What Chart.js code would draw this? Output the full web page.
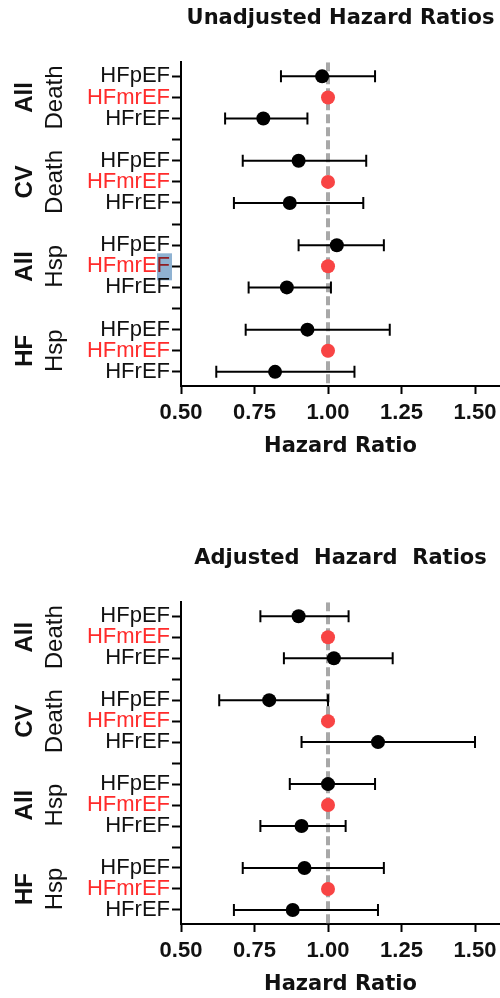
<!DOCTYPE html>
<html>
<head>
<meta charset="utf-8">
<script src="https://cdn.jsdelivr.net/npm/chart.js@4.4.1/dist/chart.umd.min.js"></script>
<style>
html, body { margin: 0; padding: 0; background: #fff; overflow: hidden; }
canvas { position: absolute; left: 0; }
#unadj { top: 0; }
#adj { top: 540px; }
</style>
</head>
<body>
<canvas id="unadj" width="500" height="470"></canvas>
<canvas id="adj" width="500" height="468"></canvas>
<script>
// outcome groups, two lines each (drawn rotated at the left)
const groupMain = ['All', 'CV', 'All', 'HF'];
const groupSub = ['Death', 'Death', 'Hsp', 'Hsp'];
const efTypes = ['HFpEF', 'HFmrEF', 'HFrEF'];
const xTicks = [0.5, 0.75, 1.0, 1.25, 1.5];

// rows: group by group, HFpEF / HFmrEF (reference) / HFrEF
const unadjHR = [0.98, 1, 0.78, 0.90, 1, 0.87, 1.03, 1, 0.86, 0.93, 1, 0.82];
const unadjLo = [0.84, null, 0.65, 0.71, null, 0.68, 0.90, null, 0.73, 0.72, null, 0.62];
const unadjHi = [1.16, null, 0.93, 1.13, null, 1.12, 1.19, null, 1.01, 1.21, null, 1.09];

const adjHR = [0.90, 1, 1.02, 0.80, 1, 1.17, 1.00, 1, 0.91, 0.92, 1, 0.88];
const adjLo = [0.77, null, 0.85, 0.63, null, 0.91, 0.87, null, 0.77, 0.71, null, 0.68];
const adjHi = [1.07, null, 1.22, 1.00, null, 1.50, 1.16, null, 1.06, 1.19, null, 1.17];

const RED = '#ff2b2b';
const DOT_RED = '#f84444';
const INK = '#111';
const yMin = -0.67, yMax = 14.67;

// row index -> y slot (one empty slot between groups)
function rowPos(i) { return Math.floor(i / 3) * 4 + (i % 3); }

const groupLabels = {
    id: 'groupLabels',
    afterDraw(chart, args, opts) {
        const ctx = chart.ctx;
        const y = chart.scales.y;
        ctx.save();
        ctx.fillStyle = INK;
        ctx.textAlign = 'center';
        ctx.textBaseline = 'alphabetic';
        for (let g = 0; g < groupMain.length; g++) {
            const py = y.getPixelForValue(g * 4 + 1);
            ctx.save();
            ctx.translate(32, py);
            ctx.rotate(-Math.PI / 2);
            ctx.font = 'bold 24px "Liberation Sans", Arial, sans-serif';
            ctx.fillText(groupMain[g], 0, 0);
            ctx.restore();
            ctx.save();
            ctx.translate(62, py);
            ctx.rotate(-Math.PI / 2);
            ctx.font = '24px "Liberation Sans", Arial, sans-serif';
            ctx.fillText(groupSub[g], 0, 0);
            ctx.restore();
        }
        // the little selection mark that sits on one label in the original
        if (opts.mark != null) {
            const my = y.getPixelForValue(opts.mark);
            const left = chart.chartArea.left;
            ctx.globalCompositeOperation = 'multiply';
            ctx.fillStyle = '#8fb2d2';
            ctx.fillRect(left - 24, my - 13, 15, 27);
        }
        ctx.restore();
    }
};

function makeChart(id, title, hr, lo, hi, mark) {
    const dots = hr.map((v, i) => ({ x: v, y: rowPos(i) }));
    const bars = [];
    lo.forEach((l, i) => {
        if (l == null) return;
        bars.push({ x: l, y: rowPos(i) }, { x: hi[i], y: rowPos(i) }, { x: null, y: null });
    });

    new Chart(id, {
        type: 'scatter',
        data: {
            datasets: [
                {
                    data: dots,
                    pointRadius: 7,
                    pointBorderWidth: 0,
                    pointBackgroundColor: c => (c.dataIndex % 3 === 1 ? DOT_RED : '#000')
                },
                {
                    data: bars,
                    showLine: true,
                    borderColor: '#000',
                    borderWidth: 2,
                    pointStyle: 'line',
                    pointRotation: 90,
                    pointRadius: 6,
                    pointBorderColor: '#000',
                    pointBorderWidth: 2
                },
                {
                    data: [{ x: 1, y: yMin }, { x: 1, y: yMax }],
                    showLine: true,
                    borderColor: '#a8a8a8',
                    borderWidth: 4,
                    borderDash: [9, 4],
                    pointRadius: 0
                }
            ]
        },
        options: {
            responsive: false,
            animation: false,
            layout: { padding: 0, autoPadding: false },
            plugins: {
                legend: { display: false },
                tooltip: { enabled: false },
                title: {
                    display: true,
                    text: title,
                    fullSize: false,
                    color: INK,
                    font: { family: 'DejaVu Sans', weight: 'bold', size: 21 },
                    padding: { top: 6, bottom: 31 }
                },
                groupLabels: { mark: mark }
            },
            scales: {
                x: {
                    type: 'linear',
                    min: 0.5,
                    max: 1.585,
                    afterBuildTicks: s => { s.ticks = xTicks.map(v => ({ value: v })); },
                    afterFit: s => { s.height = 84; s.paddingLeft = 0; s.paddingRight = 0; },
                    ticks: {
                        callback: v => v.toFixed(2),
                        color: INK,
                        font: { family: 'Liberation Sans', weight: 'bold', size: 22 },
                        padding: 6,
                        maxRotation: 0,
                        autoSkip: false
                    },
                    grid: { drawOnChartArea: false, tickLength: 8, tickWidth: 2, tickColor: '#000' },
                    border: { color: '#000', width: 2 },
                    title: {
                        display: true,
                        text: 'Hazard Ratio',
                        color: INK,
                        font: { family: 'DejaVu Sans', weight: 'bold', size: 21 },
                        padding: { top: 0, bottom: 11 }
                    }
                },
                y: {
                    type: 'linear',
                    reverse: true,
                    min: yMin,
                    max: yMax,
                    afterBuildTicks: s => {
                        const t = [];
                        for (let i = 0; i < 15; i++) t.push({ value: i });
                        s.ticks = t;
                    },
                    afterFit: s => { s.width = 181; s.paddingTop = 0; s.paddingBottom = 0; },
                    ticks: {
                        callback: v => (v % 4 === 3 ? '' : efTypes[v % 4]),
                        color: c => (c.tick && c.tick.value % 4 === 1 ? RED : INK),
                        font: { family: 'Liberation Sans', size: 22 },
                        padding: 2,
                        autoSkip: false
                    },
                    grid: { drawOnChartArea: false, tickLength: 9, tickWidth: 2, tickColor: '#000' },
                    border: { color: '#000', width: 2 }
                }
            }
        },
        plugins: [groupLabels]
    });
}

makeChart('unadj', 'Unadjusted Hazard Ratios', unadjHR, unadjLo, unadjHi, 9);
makeChart('adj', 'Adjusted  Hazard  Ratios', adjHR, adjLo, adjHi, null);
</script>
</body>
</html>
